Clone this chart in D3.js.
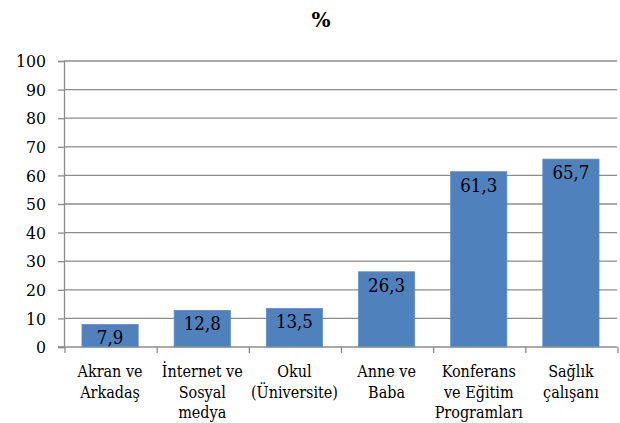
<!DOCTYPE html>
<html><head><meta charset="utf-8">
<script src="https://cdn.jsdelivr.net/npm/d3@7"></script>
<style>body{margin:0;background:#fff}</style>
</head><body>
<svg id="c" width="620" height="423"></svg>
<script>
const categories = [["Akran ve","Arkadaş"],["İnternet ve","Sosyal","medya"],["Okul","(Üniversite)"],["Anne ve","Baba"],["Konferans","ve Eğitim","Programları"],["Sağlık","çalışanı"]];
const values = [7.9, 12.8, 13.5, 26.3, 61.3, 65.7];
const valueLabels = ["7,9","12,8","13,5","26,3","61,3","65,7"];
const yTicks = [0,10,20,30,40,50,60,70,80,90,100];
const title = "%";

(function(){
const svg = d3.select("#c");
const FONT = "'DejaVu Serif Condensed', 'DejaVu Serif', serif";
const mLeft = 64, mRight = 617, mTop = 61, mBottom = 347;
const x = d3.scaleBand().domain(d3.range(categories.length)).range([mLeft, mRight]).paddingInner(0.39).paddingOuter(0.195);
const y = d3.scaleLinear().domain([0,100]).range([mBottom, mTop]);

svg.append("text").attr("x", 321).attr("y", 27).attr("text-anchor","middle")
  .style("font-family", "'DejaVu Serif', serif").attr("font-weight","bold").attr("font-size", 20).text(title);

svg.append("g").selectAll("line").data(yTicks.filter(d=>d>0)).join("line")
  .attr("x1", mLeft).attr("x2", mRight).attr("y1", d=>y(d)).attr("y2", d=>y(d))
  .attr("stroke", "#8c8c8c").attr("stroke-width", 1.3);

const ya = svg.append("g").attr("transform", `translate(${mLeft},0)`)
  .call(d3.axisLeft(y).tickValues(yTicks).tickSize(6).tickPadding(12).tickFormat(d3.format("d")));
ya.attr("font-family", null).attr("font-size", null);
ya.select(".domain").attr("stroke","#8c8c8c").attr("stroke-width",1.3);
ya.selectAll(".tick line").attr("stroke","#8c8c8c").attr("stroke-width",1.3);
ya.selectAll("text").style("font-family", FONT).style("font-size", "17.5px").attr("fill","#000");

svg.append("g").selectAll("rect").data(values).join("rect")
  .attr("x", (d,i)=>x(i)).attr("width", x.bandwidth())
  .attr("y", d=>y(d)).attr("height", d=>y(0)-y(d))
  .attr("fill", "#4f81bd").attr("stroke","#5f8fca").attr("stroke-width",0.8);

const step = x.step();
const xa = svg.append("g");
xa.append("line").attr("x1", mLeft-6).attr("x2", mRight).attr("y1", mBottom).attr("y2", mBottom)
  .attr("stroke","#8c8c8c").attr("stroke-width",1.3);
xa.selectAll("line.t").data(d3.range(categories.length+1)).join("line").attr("class","t")
  .attr("x1", i=>mLeft + i*step + 1).attr("x2", i=>mLeft + i*step + 1)
  .attr("y1", mBottom).attr("y2", mBottom+6).attr("stroke","#8c8c8c").attr("stroke-width",1.3);

svg.append("g").selectAll("text").data(values).join("text")
  .attr("x", (d,i)=>x(i)+x.bandwidth()/2).attr("y", d=>y(d)+20)
  .attr("text-anchor","middle").style("font-family", FONT).style("font-size", "18.5px").attr("fill","#000")
  .text((d,i)=>valueLabels[i]);

const cl = svg.append("g").selectAll("text").data(categories).join("text")
  .attr("text-anchor","middle").style("font-family", FONT).style("font-size", "16px").attr("fill","#000");
cl.each(function(lines,i){
  d3.select(this).selectAll("tspan").data(lines).join("tspan")
    .attr("x", x(i)+x.bandwidth()/2).attr("y", (l,j)=>377 + j*20.5).text(l=>l);
});
})();
</script>
</body></html>
